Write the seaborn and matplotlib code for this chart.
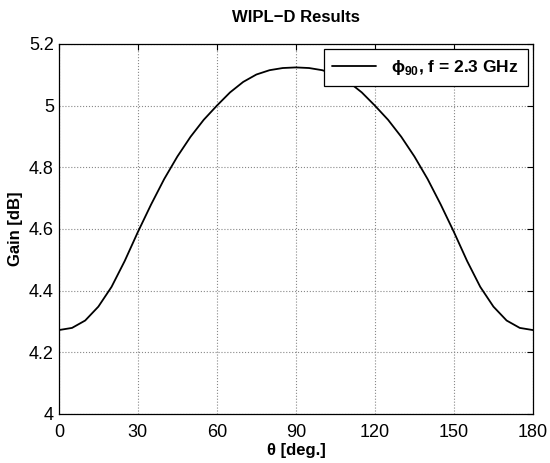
import pandas as pd
import matplotlib
matplotlib.use('Agg')
import matplotlib.pyplot as plt
import numpy as np
import seaborn as sns
from matplotlib.ticker import FuncFormatter

# gain, 0..90 deg (pattern is symmetric about 90)
theta_half = [0, 5, 10, 15, 20, 25, 30, 35, 40, 45, 50, 55, 60, 65, 70, 75, 80, 85, 90]
gain_half = [4.272, 4.279, 4.303, 4.348, 4.412, 4.496, 4.590, 4.679, 4.762, 4.835,
             4.899, 4.954, 5.000, 5.043, 5.077, 5.101, 5.115, 5.122, 5.124]

theta = theta_half + [180 - t for t in theta_half[-2::-1]]
gain = gain_half + gain_half[-2::-1]

xticks = [0, 30, 60, 90, 120, 150, 180]
yticks = [4, 4.2, 4.4, 4.6, 4.8, 5, 5.2]

df = pd.DataFrame({'theta': theta, 'gain': gain,
                   'series': ['ϕ$_{\\bf 90}$, f = 2.3 GHz'] * len(theta)})

sns.set_style('white')
plt.rcParams['font.family'] = ['Liberation Sans', 'DejaVu Sans']
plt.rcParams['mathtext.fontset'] = 'custom'
plt.rcParams['mathtext.rm'] = 'Liberation Sans'
plt.rcParams['mathtext.bf'] = 'Liberation Sans:bold'
plt.rcParams['text.color'] = 'black'
plt.rcParams['axes.labelcolor'] = 'black'

fig = plt.figure(figsize=(5.5, 4.63), dpi=100)
ax = fig.add_axes([0.107, 0.106, 0.862, 0.799])

sns.lineplot(data=df, x='theta', y='gain', hue='series', palette=['black'],
             linewidth=1.3, ax=ax)

ax.set_xlim(0, 180)
ax.set_ylim(4, 5.2)
ax.set_xticks(xticks)
ax.set_yticks(yticks)
ax.yaxis.set_major_formatter(FuncFormatter(lambda v, p: '%g' % v))
ax.tick_params(direction='in', top=True, right=True, length=4, width=0.8,
               labelsize=13, colors='black')
ax.tick_params(axis='x', pad=7)
ax.grid(True, linestyle=':', color='#888888', linewidth=0.8)
for s in ax.spines.values():
    s.set_color('black')
    s.set_linewidth(0.9)

ax.set_title('WIPL−D Results', fontsize=12, fontweight='bold', pad=16)
ax.set_xlabel('θ [deg.]', fontsize=12, fontweight='bold', labelpad=2)
ax.set_ylabel('Gain [dB]', fontsize=12, fontweight='bold', labelpad=4)

leg = ax.legend(loc='upper right', frameon=True, fancybox=False,
                borderaxespad=0.3, handlelength=2.5, handletextpad=0.9,
                borderpad=0.5, edgecolor='black',
                prop={'weight': 'bold', 'size': 12.5})
leg.get_frame().set_linewidth(0.9)
leg.get_frame().set_alpha(1)

plt.savefig('out.png', dpi=100)
